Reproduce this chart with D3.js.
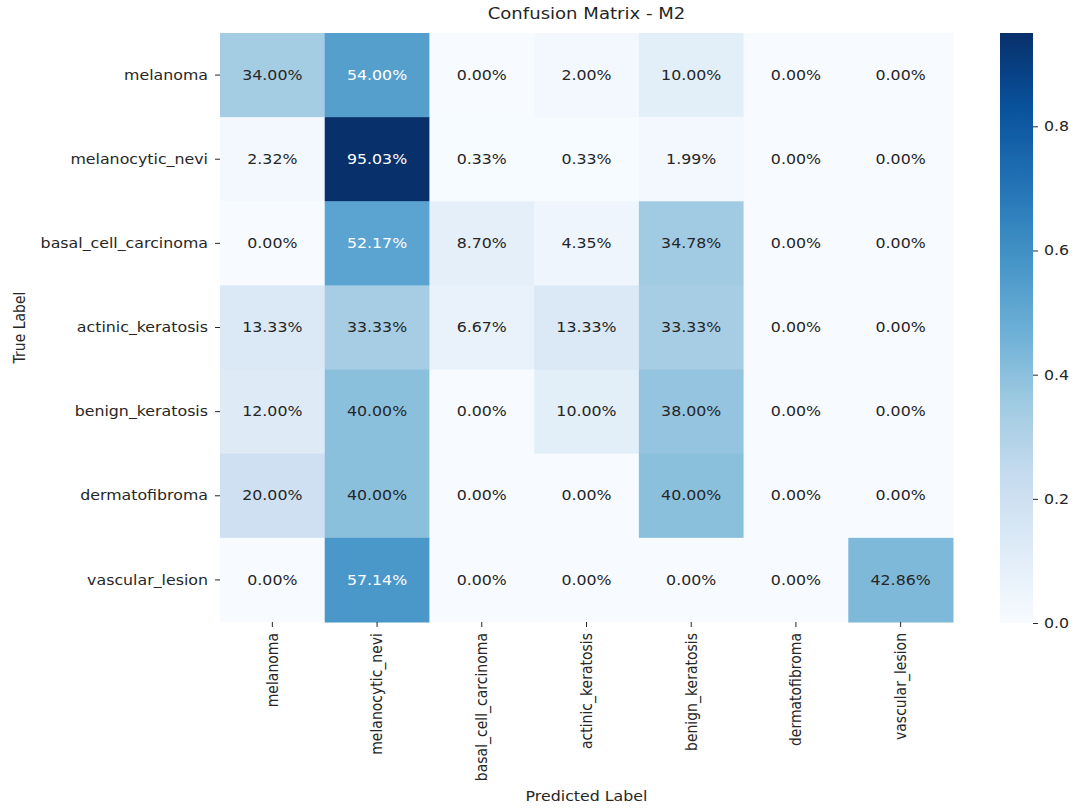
<!DOCTYPE html>
<html>
<head>
<meta charset="utf-8">
<script src="https://cdn.jsdelivr.net/npm/d3@7"></script>
<style>
  html, body { margin: 0; padding: 0; background: #fff; }
  svg { display: block; font-family: "DejaVu Sans", sans-serif; }
</style>
</head>
<body>
<svg id="chart" width="1073" height="810"></svg>
<script>
// Class names, used for both axes
const classes = [
  "melanoma", "melanocytic_nevi", "basal_cell_carcinoma", "actinic_keratosis",
  "benign_keratosis", "dermatofibroma", "vascular_lesion"
];

// Row-normalised confusion matrix (rows = true label, columns = predicted label)
const rowMelanoma      = [0.3400, 0.5400, 0.0000, 0.0200, 0.1000, 0.0000, 0.0000];
const rowNevi          = [0.0232, 0.9503, 0.0033, 0.0033, 0.0199, 0.0000, 0.0000];
const rowBasalCell     = [0.0000, 0.5217, 0.0870, 0.0435, 0.3478, 0.0000, 0.0000];
const rowActinic       = [0.1333, 0.3333, 0.0667, 0.1333, 0.3333, 0.0000, 0.0000];
const rowBenign        = [0.1200, 0.4000, 0.0000, 0.1000, 0.3800, 0.0000, 0.0000];
const rowDermato       = [0.2000, 0.4000, 0.0000, 0.0000, 0.4000, 0.0000, 0.0000];
const rowVascular      = [0.0000, 0.5714, 0.0000, 0.0000, 0.0000, 0.0000, 0.4286];
const matrix = [rowMelanoma, rowNevi, rowBasalCell, rowActinic, rowBenign, rowDermato, rowVascular];

// Colour bar ticks
const colorbarTicks = [0.0, 0.2, 0.4, 0.6, 0.8];

const titleText = "Confusion Matrix - M2";
const xTitle = "Predicted Label";
const yTitle = "True Label";

// ---- layout ----
const plotLeft = 220, plotRight = 953, plotTop = 33, plotBottom = 622;
const cbLeft = 1000, cbRight = 1033;
const sx = 1.13;           // horizontal glyph stretch
const fontSize = 14;
const textDark = "#262626";

const svg = d3.select("#chart");

const x = d3.scaleBand().domain(classes).range([plotLeft, plotRight]).padding(0);
const y = d3.scaleBand().domain(classes).range([plotTop, plotBottom]).padding(0);

// Blues colormap (piecewise linear through the nine ColorBrewer stops)
const bluesStops = ["#f7fbff", "#deebf7", "#c6dbef", "#9ecae1", "#6baed6",
                    "#4292c6", "#2171b5", "#08519c", "#08306b"];
const vmin = 0;
const vmax = d3.max(matrix.flat());
const color = d3.scaleLinear()
  .domain(bluesStops.map((_, i) => vmin + (vmax - vmin) * i / (bluesStops.length - 1)))
  .range(bluesStops)
  .interpolate(d3.interpolateRgb)
  .clamp(true);

// relative luminance, used to pick light or dark annotation text
function luminance(c) {
  const rgb = d3.rgb(c);
  const lin = v => { const s = v / 255; return s <= 0.03928 ? s / 12.92 : Math.pow((s + 0.055) / 1.055, 2.4); };
  return 0.2126 * lin(rgb.r) + 0.7152 * lin(rgb.g) + 0.0722 * lin(rgb.b);
}

// horizontally stretched text helper
function stretchedText(g, tx, ty, text, opts) {
  return g.append("text")
    .attr("transform", `translate(${tx},${ty}) scale(${sx},1)` + (opts.rotate ? ` rotate(${opts.rotate})` : ""))
    .attr("text-anchor", opts.anchor || "middle")
    .attr("dominant-baseline", opts.baseline || "auto")
    .attr("font-size", opts.size || fontSize)
    .style("fill", opts.fill || textDark)
    .text(text);
}

// ---- cells ----
const cells = [];
matrix.forEach((row, i) => row.forEach((v, j) => cells.push({ r: classes[i], c: classes[j], v })));

const cellG = svg.append("g");
cellG.selectAll("rect").data(cells).join("rect")
  .attr("x", d => x(d.c))
  .attr("y", d => y(d.r))
  .attr("width", x.bandwidth() + 0.5)
  .attr("height", y.bandwidth() + 0.5)
  .attr("fill", d => color(d.v));

const annG = svg.append("g");
cells.forEach(d => {
  const fill = color(d.v);
  const tc = luminance(fill) < 0.408 ? "#ffffff" : textDark;
  stretchedText(annG, x(d.c) + x.bandwidth() / 2, y(d.r) + y.bandwidth() / 2,
    (d.v * 100).toFixed(2) + "%", { fill: tc, baseline: "central" });
});

// ---- axes ----
const axG = svg.append("g");
classes.forEach(c => {
  const cy = y(c) + y.bandwidth() / 2;
  axG.append("line").attr("x1", plotLeft - 5).attr("x2", plotLeft).attr("y1", cy).attr("y2", cy)
    .attr("stroke", textDark).attr("stroke-width", 1);
  stretchedText(axG, plotLeft - 12, cy, c, { anchor: "end", baseline: "central" });

  const cx = x(c) + x.bandwidth() / 2;
  axG.append("line").attr("x1", cx).attr("x2", cx).attr("y1", plotBottom).attr("y2", plotBottom + 5)
    .attr("stroke", textDark).attr("stroke-width", 1);
  stretchedText(axG, cx, plotBottom + 11, c, { anchor: "end", baseline: "central", rotate: -90 });
});

// titles
stretchedText(svg, (plotLeft + plotRight) / 2, 19, titleText, { size: 16 });
stretchedText(svg, (plotLeft + plotRight) / 2, 801, xTitle, {});
stretchedText(svg, 25, (plotTop + plotBottom) / 2, yTitle, { rotate: -90 });

// ---- colour bar ----
const cbScale = d3.scaleLinear().domain([vmin, vmax]).range([plotBottom + 1, plotTop]);
const defs = svg.append("defs");
const grad = defs.append("linearGradient").attr("id", "cbGrad")
  .attr("x1", 0).attr("y1", 1).attr("x2", 0).attr("y2", 0);
d3.range(0, 1.0001, 0.02).forEach(t => {
  grad.append("stop").attr("offset", t).attr("stop-color", color(vmin + t * (vmax - vmin)));
});
svg.append("rect")
  .attr("x", cbLeft).attr("y", cbScale(vmax))
  .attr("width", cbRight - cbLeft).attr("height", cbScale(vmin) - cbScale(vmax))
  .attr("fill", "url(#cbGrad)");

const cbAxis = d3.axisRight(cbScale).tickValues(colorbarTicks).tickFormat(d3.format(".1f"))
  .tickSize(5).tickPadding(6);
const cbG = svg.append("g").attr("transform", `translate(${cbRight},0)`).call(cbAxis);
cbG.select(".domain").remove();
cbG.selectAll(".tick line").attr("stroke", textDark);
cbG.selectAll(".tick text")
  .attr("font-size", fontSize)
  .attr("font-family", "DejaVu Sans, sans-serif")
  .attr("fill", textDark)
  .attr("transform", function () {
    const xx = +d3.select(this).attr("x");
    return `translate(${xx},0) scale(${sx},1) translate(${-xx},0)`;
  });
</script>
</body>
</html>
